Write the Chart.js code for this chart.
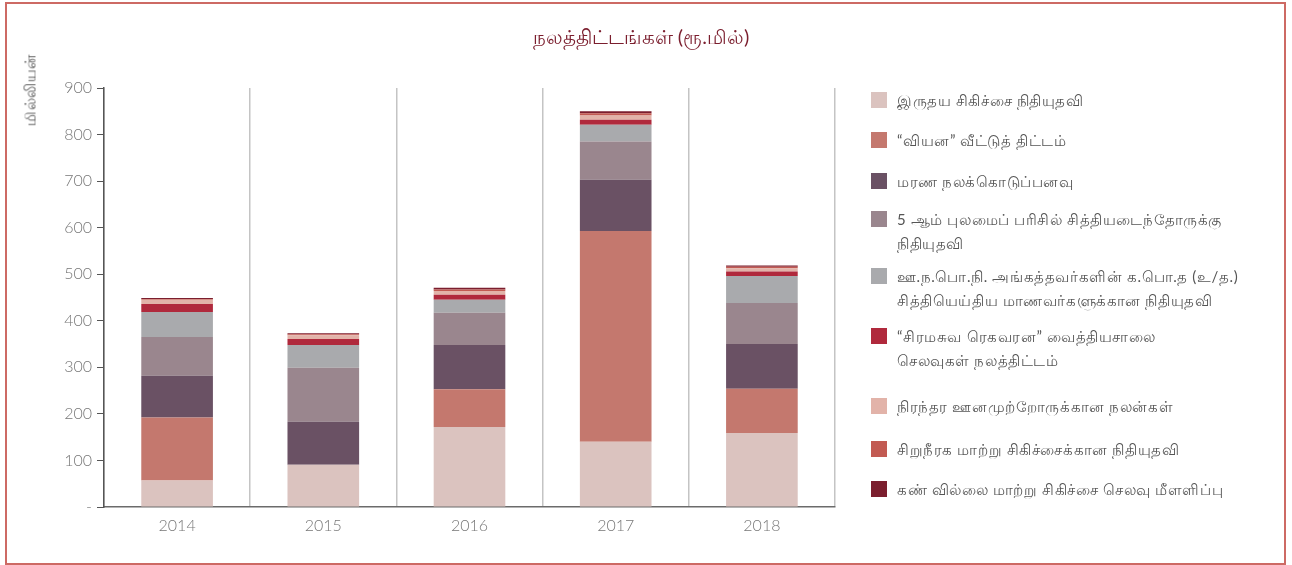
<!DOCTYPE html>
<html lang="ta">
<head>
  <meta charset="UTF-8">
  <title>நலத்திட்டங்கள்</title>
  <script src="https://cdn.jsdelivr.net/npm/chart.js"></script>
  <style>
    html, body { margin: 0; padding: 0; background: #fff; }
    body { width: 1292px; height: 565px; position: relative; overflow: hidden; font-family: Lato, "Noto Sans", sans-serif; }
    #frame { position: absolute; left: 5px; top: 2px; width: 1277px; height: 559px; border: 2px solid #cd6a64; box-sizing: content-box; }
    #chartBox { position: absolute; left: 0; top: 0; width: 1292px; height: 565px; }
    #title { position: absolute; left: 0; width: 1282px; top: 24px; text-align: center; font-size: 20px; color: #7b1e2e; }
    #yTitle { position: absolute; left: 31px; top: 90px; transform: translate(-50%, -50%) rotate(-90deg); font-size: 15px; letter-spacing: 0.5px; color: #555; white-space: nowrap; }
    .leg { position: absolute; left: 871px; font-size: 15px; line-height: 24px; color: #555; }
    .leg .sw { position: absolute; left: 0; top: 0; width: 16px; height: 16px; }
    .leg .tx { position: absolute; left: 26px; top: -4px; white-space: nowrap; letter-spacing: 0.6px; }
  </style>
</head>
<body>
  <div id="frame"></div>
  <div id="chartBox"><canvas id="welfareChart" width="1292" height="565"></canvas></div>
  <div id="title">நலத்திட்டங்கள் (ரூ.மில்)</div>
  <div id="yTitle">மில்லியன்</div>
  <div id="legend"></div>

  <script>
    // data (Rs. million)
    const years = ['2014', '2015', '2016', '2017', '2018'];
    const heartAid      = [57, 91, 172, 140, 159];
    const viyanaHousing = [135, 0, 81, 453, 95];
    const deathBenefit  = [90, 92, 95, 110, 96];
    const scholarship   = [83, 116, 69, 82, 88];
    const alStudents    = [54, 49, 28, 36, 58];
    const hospitalCost  = [17, 13, 11, 11, 10];
    const disabledAid   = [9, 8, 8, 9, 7];
    const kidneyAid     = [2, 2, 3, 5, 3];
    const eyeLens       = [2, 2, 4, 4, 3];

    const seriesNames = [
      ['இருதய சிகிச்சை நிதியுதவி'],
      ['“வியன” வீட்டுத் திட்டம்'],
      ['மரண நலக்கொடுப்பனவு'],
      ['5 ஆம் புலமைப் பரிசில் சித்தியடைந்தோருக்கு', 'நிதியுதவி'],
      ['ஊ.ந.பொ.நி. அங்கத்தவர்களின் க.பொ.த (உ/த.)', 'சித்தியெய்திய மாணவர்களுக்கான நிதியுதவி'],
      ['“சிரமசுவ ரெகவரன” வைத்தியசாலை', 'செலவுகள் நலத்திட்டம்'],
      ['நிரந்தர ஊனமுற்றோருக்கான நலன்கள்'],
      ['சிறுநீரக மாற்று சிகிச்சைக்கான நிதியுதவி'],
      ['கண் வில்லை மாற்று சிகிச்சை செலவு மீளளிப்பு']
    ];
    const seriesValues = [heartAid, viyanaHousing, deathBenefit, scholarship, alStudents, hospitalCost, disabledAid, kidneyAid, eyeLens];
    const seriesColors = ['#dbc3bf', '#c4786e', '#6a5164', '#9a868e', '#a9aaad', '#b0293c', '#e2b3a9', '#c25a52', '#7b1e2e'];
    const yTicks = [0, 100, 200, 300, 400, 500, 600, 700, 800, 900];

    // legend layout (top of each swatch, px)
    const legendTops = [92, 132, 173, 211, 268, 328, 398, 441, 481];

    const legendEl = document.getElementById('legend');
    seriesNames.forEach((lines, i) => {
      const item = document.createElement('div');
      item.className = 'leg';
      item.style.top = legendTops[i] + 'px';
      item.innerHTML = `<div class="sw" style="background:${seriesColors[i]}"></div><div class="tx">${lines.join('<br>')}</div>`;
      legendEl.appendChild(item);
    });

    const ctx = document.getElementById('welfareChart').getContext('2d');
    new Chart(ctx, {
      type: 'bar',
      data: {
        labels: years,
        datasets: seriesValues.map((vals, i) => ({
          label: seriesNames[i].join(' '),
          data: vals,
          backgroundColor: seriesColors[i],
          borderWidth: 0,
          barPercentage: 0.49,
          categoryPercentage: 1
        }))
      },
      options: {
        responsive: false,
        animation: false,
        layout: { padding: { left: 0, right: 457, top: 88, bottom: 0 } },
        plugins: { legend: { display: false }, title: { display: false }, tooltip: { enabled: false } },
        scales: {
          x: {
            stacked: true,
            afterFit: s => { s.height = 58; },
            grid: { offset: true, drawOnChartArea: true, drawTicks: false, color: '#c4c4c4', lineWidth: 1.5 },
            border: { display: true, color: '#6b6b6b', width: 1.5 },
            ticks: { color: '#777', font: { family: 'Lato', size: 16, weight: 300 }, padding: 9 }
          },
          y: {
            stacked: true,
            min: 0,
            max: 900,
            afterFit: s => { s.width = 104; },
            afterBuildTicks: s => { s.ticks = yTicks.map(v => ({ value: v })); },
            grid: { drawOnChartArea: false, drawTicks: true, tickLength: 7, color: '#555' },
            border: { display: true, color: '#555', width: 1.5 },
            ticks: {
              color: '#777',
              font: { family: 'Lato', size: 16, weight: 300 },
              padding: 5,
              callback: v => v === 0 ? '-' : v
            }
          }
        }
      }
    });
  </script>
</body>
</html>
